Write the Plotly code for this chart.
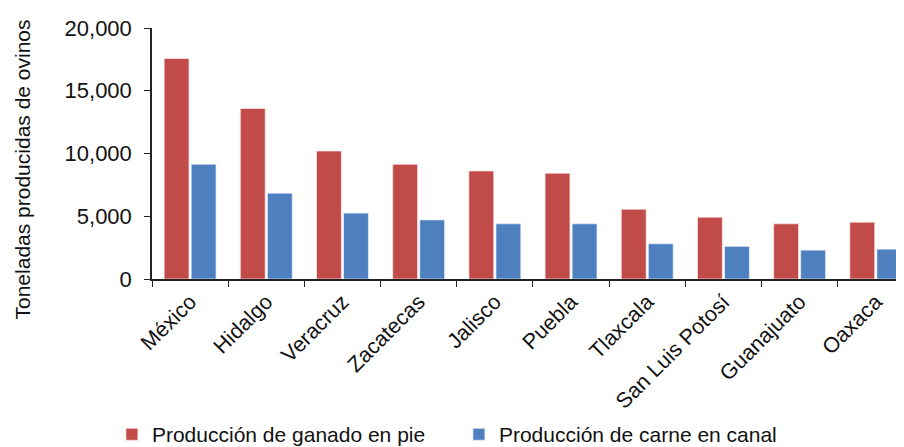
import plotly.graph_objects as go

estados = ["México", "Hidalgo", "Veracruz", "Zacatecas", "Jalisco", "Puebla",
           "Tlaxcala", "San Luis Potosí", "Guanajuato", "Oaxaca"]
ganado_en_pie = [17570, 13590, 10200, 9140, 8610, 8430, 5560, 4930, 4400, 4530]
carne_en_canal = [9140, 6840, 5250, 4710, 4400, 4400, 2810, 2600, 2300, 2380]
y_ticks = [0, 5000, 10000, 15000, 20000]

FONT = "Liberation Sans, Arial, sans-serif"

fig = go.Figure()
fig.add_trace(go.Bar(
    x=estados, y=ganado_en_pie, name="Producción de ganado en pie",
    marker=dict(color="#C14B48", line=dict(color="rgba(255,235,235,0.7)", width=1)),
))
fig.add_trace(go.Bar(
    x=estados, y=carne_en_canal, name="Producción de carne en canal",
    marker=dict(color="#4E80C0", line=dict(color="rgba(235,240,255,0.7)", width=1)),
))

fig.update_layout(
    width=896, height=439,
    margin=dict(l=144, r=0, t=20, b=168, autoexpand=False),
    paper_bgcolor="white", plot_bgcolor="white",
    font=dict(family=FONT, size=21, color="#111111"),
    barmode="group", bargap=0.29, bargroupgap=0.08,
    showlegend=True,
    legend=dict(
        orientation="h", xref="container", yref="paper",
        x=0.116, y=-0.62, xanchor="left", yanchor="middle",
        font=dict(size=21, family=FONT), itemwidth=30,
        entrywidth=302, entrywidthmode="pixels",
        traceorder="normal", bgcolor="rgba(0,0,0,0)",
    ),
    xaxis=dict(
        type="category", range=[-0.5, 9.37], automargin=False,
        showline=True, linecolor="#222222", linewidth=1.5,
        ticks="outside", tickson="boundaries", ticklen=6, tickcolor="#222222",
        tickangle=-45, tickfont=dict(size=21.5, family=FONT),
        showgrid=False, zeroline=False,
    ),
    yaxis=dict(
        range=[0, 20000], tickvals=y_ticks, tickformat=",", automargin=False,
        showline=True, linecolor="#222222", linewidth=1.5,
        ticks="outside", ticklen=6, tickcolor="#222222",
        ticklabelstandoff=8,
        tickfont=dict(size=22, family=FONT),
        showgrid=False, zeroline=False,
    ),
    annotations=[dict(
        text="Toneladas producidas de ovinos", textangle=-90,
        xref="paper", yref="paper", x=0, y=0.5,
        xanchor="center", yanchor="middle", xshift=-130, yshift=-16,
        showarrow=False, font=dict(size=21, family=FONT, color="#111111"),
    )],
)

fig.write_html("out.html")
